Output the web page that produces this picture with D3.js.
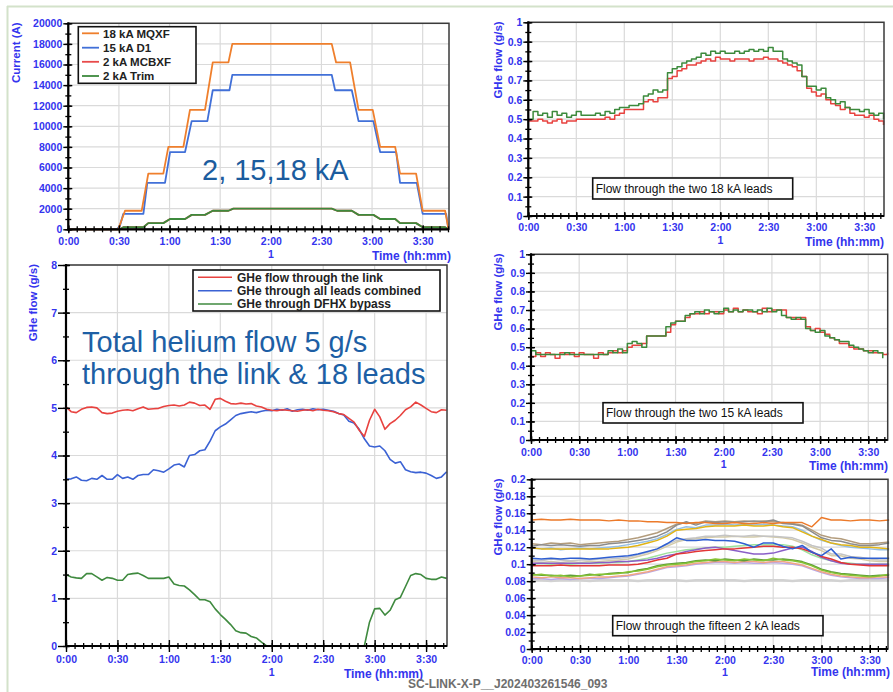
<!DOCTYPE html>
<html><head><meta charset="utf-8">
<script src="https://cdn.jsdelivr.net/npm/d3@7"></script>
<style>
body{margin:0;background:#fff;}
svg{display:block;font-family:Arial,"Liberation Sans",sans-serif;}
</style></head><body>
<svg id="c" width="893" height="692"></svg>
<script>
// ---------- DATA ----------
const timeLabels = ["0:00","0:30","1:00","1:30","2:00","2:30","3:00","3:30"];

// Panel 1: magnet currents (A), [minutes, value]
const p1Mqxf = [[0,0],[29.6,0],[33.6,1800],[43.5,1800],[47.4,5400],[56.3,5400],[59.3,8000],[68.2,8000],[72.1,11600],[81,11600],[85.6,16200],[94.9,16200],[97.2,18000],[156.1,18000],[158.7,16200],[167,16200],[172,11600],[180.4,11600],[184.8,8000],[193.7,8000],[196.6,5400],[206.1,5400],[210,1800],[223.3,1800],[225.3,0]];
const p1D1 = [[0,0],[28.7,0],[30.5,300],[32.6,1500],[44.5,1500],[46.8,4500],[57.3,4500],[60.3,7500],[69.2,7500],[73.1,10500],[82.4,10500],[85.6,13500],[95.5,13500],[97.2,15000],[156.1,15000],[158.1,13500],[168,13500],[172,10500],[180.8,10500],[184.8,7500],[194.3,7500],[196.6,4500],[206.5,4500],[210,1500],[223.9,1500],[225.3,0]];
const p1Mcbxf = [[0,0],[30.5,0],[32.6,200],[44.5,200],[47.4,600],[56.3,600],[60.3,1000],[69.2,1000],[73.1,1400],[81,1400],[85.6,1800],[94.9,1800],[97.8,2000],[156.1,2000],[159.3,1800],[168,1800],[172,1400],[180.8,1400],[184.8,1000],[193.7,1000],[196.6,600],[206.1,600],[210,200],[223.3,200],[225.3,0]];
const p1Trim = [[0,0],[30.5,0],[32.6,200],[44.5,200],[47.4,600],[56.3,600],[60.3,1000],[69.2,1000],[73.1,1400],[81,1400],[85.6,1800],[94.9,1800],[97.8,2000],[156.1,2000],[159.3,1800],[168,1800],[172,1400],[180.8,1400],[184.8,1000],[193.7,1000],[196.6,600],[206.1,600],[210,200],[223.3,200],[225.3,0]];
const p1Names = ["18 kA MQXF","15 kA D1","2 kA MCBXF","2 kA Trim"];

// 3-minute time base (minutes)
const T3 = [0,3,6,9,12,15,18,21,24,27,30,33,36,39,42,45,48,51,54,57,60,63,66,69,72,75,78,81,84,87,90,93,96,99,102,105,108,111,114,117,120,123,126,129,132,135,138,141,144,147,150,153,156,159,162,165,168,171,174,177,180,183,186,189,192,195,198,201,204,207,210,213,216,219,222];

// Panel 2: two 18 kA leads (g/s)
const p2Red = [0.49,0.49,0.50,0.49,0.48,0.49,0.50,0.48,0.49,0.49,
 0.50,0.50,0.50,0.50,0.50,0.50,0.51,0.50,0.52,0.53,
 0.55,0.55,0.55,0.55,0.59,0.60,0.59,0.61,0.61,0.71,
 0.72,0.75,0.76,0.78,0.78,0.79,0.80,0.81,0.80,0.82,
 0.81,0.81,0.80,0.81,0.81,0.81,0.80,0.81,0.81,0.82,
 0.81,0.81,0.80,0.79,0.78,0.77,0.75,0.72,0.66,0.64,
 0.62,0.63,0.60,0.58,0.57,0.55,0.56,0.53,0.52,0.52,
 0.51,0.52,0.50,0.49,0.47];
const p2Green = [0.50,0.54,0.52,0.53,0.51,0.54,0.52,0.53,0.51,0.52,
 0.54,0.52,0.52,0.52,0.53,0.52,0.54,0.53,0.55,0.56,
 0.56,0.57,0.57,0.58,0.62,0.63,0.65,0.64,0.65,0.74,
 0.76,0.77,0.79,0.80,0.81,0.82,0.84,0.83,0.85,0.84,
 0.85,0.84,0.84,0.85,0.84,0.85,0.86,0.85,0.86,0.85,
 0.87,0.85,0.85,0.81,0.80,0.79,0.78,0.72,0.67,0.67,
 0.65,0.66,0.61,0.60,0.58,0.59,0.56,0.55,0.55,0.54,
 0.55,0.53,0.52,0.53,0.50];

// Panel 3: total flows (g/s)
const p3Link = [5.02,4.92,4.90,4.97,5.01,5.02,5.00,4.90,4.88,4.89,
 4.93,4.95,4.96,4.94,4.98,5.02,4.97,4.98,4.99,5.03,
 5.05,5.06,5.04,5.06,5.12,5.10,5.05,5.06,4.97,5.18,
 5.20,5.14,5.09,5.08,5.10,5.08,5.09,5.04,5.02,4.97,
 4.95,4.94,4.96,4.95,4.94,4.93,4.95,4.96,4.94,4.97,
 4.95,4.94,4.92,4.88,4.86,4.78,4.70,4.53,4.40,4.74,
 4.97,4.81,4.55,4.67,4.74,4.84,4.96,5.02,5.12,5.06,
 4.99,4.92,4.90,4.96,4.95];
const p3Leads = [3.50,3.51,3.55,3.48,3.47,3.52,3.50,3.58,3.50,3.50,
 3.60,3.52,3.55,3.50,3.58,3.60,3.60,3.70,3.68,3.65,
 3.72,3.80,3.82,3.76,4.00,4.02,4.10,4.12,4.30,4.52,
 4.60,4.66,4.75,4.84,4.88,4.90,4.92,4.90,4.93,4.95,
 4.94,4.97,4.95,4.98,4.93,4.96,4.97,4.95,4.98,4.96,
 4.97,4.95,4.93,4.88,4.85,4.72,4.68,4.55,4.35,4.20,
 4.18,4.20,4.10,3.92,3.84,3.87,3.70,3.66,3.64,3.65,
 3.63,3.58,3.52,3.55,3.66];
const p3Bypass = [1.50,1.45,1.43,1.42,1.52,1.52,1.45,1.38,1.44,1.42,
 1.38,1.38,1.50,1.52,1.53,1.48,1.42,1.42,1.42,1.42,
 1.45,1.30,1.27,1.26,1.18,1.08,0.97,0.97,0.93,0.78,
 0.66,0.56,0.45,0.32,0.28,0.27,0.20,0.17,0.08,0.00,
 0,0,0,0,0,0,0,0,0,0,
 0,0,0,0,0,0,0,0,0,0.50,
 0.78,0.79,0.65,0.75,0.97,1.02,1.25,1.48,1.52,1.50,
 1.42,1.40,1.40,1.45,1.42];
const p3Names = ["GHe flow through the link","GHe through all leads combined","GHe through DFHX bypass"];

// Panel 4: two 15 kA leads (g/s)
const p4Red = [0.45,0.47,0.45,0.47,0.46,0.44,0.47,0.46,0.47,0.45,
 0.47,0.46,0.46,0.44,0.47,0.46,0.47,0.48,0.47,0.48,
 0.50,0.51,0.51,0.52,0.56,0.56,0.56,0.56,0.58,0.62,
 0.64,0.64,0.66,0.68,0.68,0.69,0.68,0.69,0.69,0.68,
 0.70,0.69,0.71,0.69,0.70,0.69,0.69,0.68,0.71,0.69,
 0.70,0.70,0.70,0.66,0.66,0.65,0.66,0.61,0.59,0.60,
 0.58,0.57,0.55,0.54,0.52,0.52,0.50,0.49,0.49,0.48,
 0.48,0.47,0.47,0.46,0.47];
const p4Green = [0.48,0.46,0.46,0.46,0.46,0.46,0.46,0.47,0.46,0.46,
 0.46,0.46,0.46,0.46,0.46,0.46,0.48,0.47,0.49,0.47,
 0.52,0.53,0.52,0.50,0.56,0.56,0.56,0.56,0.61,0.63,
 0.64,0.64,0.67,0.68,0.69,0.68,0.70,0.69,0.68,0.69,
 0.71,0.69,0.70,0.69,0.70,0.70,0.69,0.70,0.69,0.71,
 0.69,0.70,0.67,0.66,0.65,0.66,0.65,0.60,0.59,0.58,
 0.59,0.56,0.55,0.54,0.53,0.53,0.51,0.50,0.49,0.48,
 0.47,0.48,0.47,0.44,null];

// Panel 5: fifteen 2 kA leads (g/s), 6-minute time base
const T6 = [0,6,12,18,24,30,36,42,48,54,60,66,72,78,84,90,96,102,108,114,120,126,132,138,144,150,156,162,168,174,180,186,192,198,204,210,216,222];
const p5Orange = [.152,.153,.152,.152,.153,.152,.152,.152,.151,.152,.151,.151,.150,.150,.149,.149,.148,.149,.149,.148,.148,.149,.148,.148,.149,.148,.149,.149,.149,.144,.155,.152,.152,.151,.152,.152,.151,.152];
const p5Gray = [.121,.123,.122,.123,.122,.121,.122,.122,.124,.125,.126,.128,.130,.133,.138,.146,.150,.146,.150,.149,.150,.149,.150,.151,.150,.152,.148,.147,.145,.138,.131,.128,.127,.124,.122,.122,.123,.125];
const p5Tan = [.124,.123,.125,.124,.125,.123,.124,.125,.126,.127,.129,.131,.134,.137,.142,.147,.149,.148,.151,.150,.151,.150,.151,.150,.151,.150,.149,.148,.146,.140,.134,.131,.130,.127,.124,.124,.125,.126];
const p5LightBlue = [.119,.118,.119,.117,.118,.119,.118,.119,.120,.121,.123,.125,.127,.130,.135,.141,.144,.143,.146,.146,.147,.146,.147,.146,.147,.146,.145,.144,.140,.133,.128,.125,.122,.120,.119,.118,.117,.117];
const p5Gold = [.119,.118,.118,.118,.118,.118,.118,.118,.118,.119,.120,.122,.125,.128,.133,.140,.141,.142,.144,.145,.145,.145,.146,.145,.145,.146,.144,.143,.138,.133,.129,.125,.123,.122,.120,.120,.119,.118];
const p5Silver = [.105,.104,.106,.105,.104,.105,.105,.106,.106,.107,.108,.111,.114,.118,.123,.128,.130,.131,.133,.133,.134,.133,.133,.134,.133,.133,.132,.131,.127,.122,.119,.112,.112,.109,.108,.106,.105,.105];
const p5Khaki = [.103,.102,.103,.102,.103,.102,.103,.103,.104,.105,.106,.109,.112,.116,.121,.126,.129,.130,.131,.132,.132,.133,.132,.132,.133,.132,.131,.129,.125,.120,.116,.110,.110,.107,.106,.104,.103,.103];
const p5Blue = [.107,.106,.107,.106,.107,.107,.106,.107,.108,.109,.110,.112,.115,.118,.124,.131,.128,.128,.129,.128,.128,.127,.124,.120,.125,.125,.121,.118,.122,.114,.110,.118,.106,.108,.107,.107,.107,.107];
const p5Mint = [.100,.101,.100,.101,.100,.101,.101,.101,.102,.102,.103,.105,.107,.110,.113,.115,.117,.118,.119,.120,.120,.121,.122,.123,.123,.123,.123,.121,.117,.111,.107,.104,.102,.101,.100,.100,.100,.100];
const p5Purple = [.101,.101,.101,.101,.101,.101,.101,.102,.102,.103,.103,.104,.105,.107,.110,.112,.115,.117,.119,.120,.118,.116,.114,.112,.112,.113,.116,.119,.120,.115,.108,.104,.101,.100,.100,.100,.100,.100];
const p5Red = [.098,.098,.098,.099,.098,.098,.098,.098,.099,.099,.099,.100,.102,.105,.107,.112,.113,.115,.116,.117,.118,.118,.119,.120,.121,.121,.120,.120,.118,.114,.109,.106,.102,.100,.099,.098,.098,.098];
const p5YellowGreen = [.087,.088,.086,.087,.085,.086,.087,.088,.088,.089,.091,.092,.094,.097,.099,.100,.101,.103,.104,.106,.105,.104,.106,.105,.104,.107,.105,.104,.102,.098,.093,.090,.088,.087,.086,.085,.086,.088];
const p5Olive = [.088,.087,.087,.086,.087,.086,.088,.087,.089,.090,.090,.093,.095,.098,.100,.101,.102,.104,.105,.104,.106,.105,.104,.106,.105,.105,.106,.105,.103,.099,.094,.091,.089,.088,.087,.086,.087,.087];
const p5Salmon = [.085,.084,.085,.084,.084,.083,.084,.085,.085,.086,.087,.089,.091,.094,.097,.098,.099,.101,.102,.103,.103,.102,.103,.103,.102,.103,.103,.101,.099,.095,.091,.088,.086,.085,.084,.084,.085,.085];
const p5Lavender = [.083,.083,.082,.083,.082,.083,.083,.083,.084,.085,.086,.088,.090,.093,.096,.097,.098,.100,.101,.102,.102,.101,.102,.101,.101,.102,.101,.100,.098,.094,.090,.087,.085,.084,.083,.083,.083,.084];
const p5LightGray = [.081,.081,.080,.081,.081,.081,.080,.081,.081,.081,.081,.080,.081,.081,.081,.081,.080,.081,.081,.081,.081,.081,.080,.081,.081,.081,.081,.080,.081,.081,.081,.081,.080,.081,.081,.081,.081,.081];

// ---------- DRAWING ----------
const BLUE = "#3434ee";
const FONT = "Arial, 'Liberation Sans', sans-serif";
const svg = d3.select("#c");

// slide frame
svg.append("line").attr("x1",7).attr("x2",893).attr("y1",6.5).attr("y2",6.5).attr("stroke","#d3e2ca").attr("stroke-width",2);
svg.append("line").attr("x1",7.5).attr("x2",7.5).attr("y1",6).attr("y2",692).attr("stroke","#d3e2ca").attr("stroke-width",2);

function makePanel(c) {
  const x = d3.scaleLinear().domain([0, c.tmax]).range([c.x0, c.x1]);
  const y = d3.scaleLinear().domain([0, c.ymax]).range([c.y1, c.y0]);
  const xMaj = d3.range(0, 8).map(i => i * 30);
  const xMin = d3.range(0, Math.floor(c.tmax / 5) + 1).map(i => i * 5);
  const yMaj = d3.range(0, c.nMaj + 1).map(i => i * c.step);
  const yMin = d3.range(0, 2 * c.nMaj + 1).map(i => i * c.step / 2);
  const g = svg.append("g");
  // grid
  g.append("g").selectAll("line").data(xMaj.slice(1)).join("line")
    .attr("x1", d => x(d)).attr("x2", d => x(d)).attr("y1", c.y0).attr("y2", c.y1)
    .attr("stroke", "#dadada").attr("stroke-width", 1.2);
  g.append("g").selectAll("line").data(yMaj.slice(1)).join("line")
    .attr("x1", c.x0).attr("x2", c.x1).attr("y1", d => y(d)).attr("y2", d => y(d))
    .attr("stroke", "#dadada").attr("stroke-width", 1.2);
  const series = svg.append("g");
  const axes = () => {
    const ga = svg.append("g");
    ga.append("rect").attr("x", c.x0).attr("y", c.y0).attr("width", c.x1 - c.x0).attr("height", c.y1 - c.y0)
      .attr("fill", "none").attr("stroke", "#3a3a3a").attr("stroke-width", 1.5);
    // y minor
    ga.append("g").attr("transform", `translate(${c.x0},0)`)
      .call(d3.axisLeft(y).tickValues(yMin).tickSize(3).tickFormat(""))
      .call(s => s.select(".domain").remove())
      .call(s => s.selectAll(".tick line").attr("x1", 3).attr("stroke", "#000").attr("stroke-width", 1.3));
    // y major
    ga.append("g").attr("transform", `translate(${c.x0},0)`)
      .call(d3.axisLeft(y).tickValues(yMaj).tickSize(c.majL).tickPadding(c.labOff - c.majL).tickFormat(c.fmt))
      .attr("font-family", FONT).attr("font-size", 10.5).attr("font-weight", "bold")
      .call(s => s.select(".domain").remove())
      .call(s => s.selectAll(".tick line").attr("x1", 4).attr("stroke", "#000").attr("stroke-width", 1.4))
      .call(s => s.selectAll(".tick text").attr("fill", BLUE));
    // x minor
    ga.append("g").attr("transform", `translate(0,${c.y1})`)
      .call(d3.axisBottom(x).tickValues(xMin).tickSize(3).tickFormat(""))
      .call(s => s.select(".domain").remove())
      .call(s => s.selectAll(".tick line").attr("y1", -3).attr("stroke", "#000").attr("stroke-width", 1.3));
    // x major
    ga.append("g").attr("transform", `translate(0,${c.y1})`)
      .call(d3.axisBottom(x).tickValues(xMaj).tickSize(c.xMajL).tickFormat((d, i) => timeLabels[i]))
      .attr("font-family", FONT).attr("font-size", 10.5).attr("font-weight", "bold")
      .call(s => s.select(".domain").remove())
      .call(s => s.selectAll(".tick line").attr("y1", -c.xMajL).attr("stroke", "#000").attr("stroke-width", 1.4))
      .call(s => s.selectAll(".tick text").attr("fill", BLUE).attr("y", c.xLab).attr("dy", 0));
    // axis lines
    ga.append("line").attr("x1", c.x0).attr("x2", c.x0).attr("y1", c.y0 - 1).attr("y2", c.y1 + 1).attr("stroke", "#000").attr("stroke-width", 2.2);
    ga.append("line").attr("x1", c.x0 - 1).attr("x2", c.x1).attr("y1", c.y1).attr("y2", c.y1).attr("stroke", "#000").attr("stroke-width", 2.2);
    // titles
    ga.append("text").attr("transform", `translate(${c.tx},${c.y0 - 1}) rotate(-90)`)
      .attr("text-anchor", "end").attr("font-family", FONT).attr("font-size", 11.5).attr("font-weight", "bold")
      .attr("fill", BLUE).text(c.title);
    ga.append("text").attr("x", x(120)).attr("y", c.oneY).attr("text-anchor", "middle")
      .attr("font-family", FONT).attr("font-size", 10.5).attr("font-weight", "bold").attr("fill", BLUE).text("1");
    ga.append("text").attr("x", c.timeX).attr("y", c.timeY).attr("text-anchor", "end")
      .attr("font-family", FONT).attr("font-size", 12).attr("font-weight", "bold").attr("fill", BLUE).text("Time (hh:mm)");
    return ga;
  };
  return { x, y, series, axes };
}

function drawLine(p, xs, ys, color, w, curve) {
  const pts = xs.map((t, i) => [t, ys[i]]);
  const line = d3.line().defined(d => d[1] !== null && d[1] !== undefined)
    .x(d => p.x(d[0])).y(d => p.y(d[1])).curve(curve || d3.curveLinear);
  p.series.append("path").datum(pts).attr("d", line).attr("fill", "none")
    .attr("stroke", color).attr("stroke-width", w).attr("stroke-linejoin", "round");
}
function drawPairs(p, pairs, color, w) {
  const line = d3.line().x(d => p.x(d[0])).y(d => p.y(d[1]));
  p.series.append("path").datum(pairs).attr("d", line).attr("fill", "none")
    .attr("stroke", color).attr("stroke-width", w).attr("stroke-linejoin", "round");
}
function noteBox(x, y, w, h, txt) {
  svg.append("rect").attr("x", x).attr("y", y).attr("width", w).attr("height", h)
    .attr("fill", "#fff").attr("stroke", "#111").attr("stroke-width", 1.6);
  svg.append("text").attr("x", x + 3).attr("y", y + 14.5).attr("font-family", FONT)
    .attr("font-size", 12).attr("fill", "#111").text(txt);
}

const fmt1 = d => String(+d.toFixed(1));
const fmt2 = d => String(+d.toFixed(2));

// ---- Panel 1 ----
const P1 = makePanel({x0:68.3, x1:449, y0:23.3, y1:229.3, tmax:225.6, ymax:20000, nMaj:10, step:2000,
  majL:5, labOff:6, xMajL:4, xLab:15.5, fmt:d => String(d), tx:19.5, title:"Current (A)",
  oneY:258, timeX:451, timeY:260});
const p1Colors = ["#ef7f2c", "#4170d8", "#e84a4a", "#3d8a3d"];
drawPairs(P1, p1Mcbxf, p1Colors[2], 1.8);
drawPairs(P1, p1Trim, p1Colors[3], 1.8);
drawPairs(P1, p1D1, p1Colors[1], 1.8);
drawPairs(P1, p1Mqxf, p1Colors[0], 1.8);
P1.axes();
svg.append("text").attr("x", 202).attr("y", 180).attr("font-family", FONT).attr("font-size", 29)
  .attr("fill", "#1b5c9e").text("2, 15,18 kA");
{
  const lg = svg.append("g");
  lg.append("rect").attr("x", 78.3).attr("y", 26.7).attr("width", 117.7).attr("height", 56.6)
    .attr("fill", "#fff").attr("stroke", "#111").attr("stroke-width", 1.6);
  const ly = [33.3, 47.7, 61.8, 76];
  p1Names.forEach((n, i) => {
    lg.append("line").attr("x1", 82).attr("x2", 99).attr("y1", ly[i]).attr("y2", ly[i]).attr("stroke", p1Colors[i]).attr("stroke-width", 1.8);
    lg.append("text").attr("x", 103).attr("y", ly[i] + 4.2).attr("font-family", FONT).attr("font-size", 11.5)
      .attr("font-weight", "bold").attr("fill", "#222").text(n);
  });
}

// ---- Panel 2 ----
const P2 = makePanel({x0:528.3, x1:884, y0:22.3, y1:216, tmax:222.3, ymax:1, nMaj:10, step:0.1,
  majL:5, labOff:6, xMajL:4, xLab:15.2, fmt:fmt1, tx:501.5, title:"GHe flow (g/s)",
  oneY:244, timeX:884, timeY:245.5});
drawLine(P2, T3, p2Red, "#e8423f", 1.5, d3.curveStepAfter);
drawLine(P2, T3, p2Green, "#3c8a3c", 1.5, d3.curveStepAfter);
P2.axes();
noteBox(592.7, 178, 200, 21, "Flow through the two 18 kA leads");

// ---- Panel 3 ----
const P3 = makePanel({x0:66, x1:447, y0:265, y1:646, tmax:222.2, ymax:8, nMaj:8, step:1,
  majL:8, labOff:9, xMajL:6, xLab:17.3, fmt:d => String(d), tx:36.5, title:"GHe flow (g/s)",
  oneY:676, timeX:423, timeY:678});
const p3Colors = ["#e8423f", "#3b62d4", "#3f8a3f"];
drawLine(P3, T3, p3Bypass, p3Colors[2], 1.6);
drawLine(P3, T3, p3Leads, p3Colors[1], 1.6);
drawLine(P3, T3, p3Link, p3Colors[0], 1.6);
P3.axes();
{
  const lg = svg.append("g");
  lg.append("rect").attr("x", 193).attr("y", 270).attr("width", 247).attr("height", 41)
    .attr("fill", "#fff").attr("stroke", "#111").attr("stroke-width", 1.6);
  const ly = [277.3, 290.7, 304];
  p3Names.forEach((n, i) => {
    lg.append("line").attr("x1", 198).attr("x2", 232).attr("y1", ly[i]).attr("y2", ly[i]).attr("stroke", p3Colors[i]).attr("stroke-width", 1.6);
    lg.append("text").attr("x", 237).attr("y", ly[i] + 4.2).attr("font-family", FONT).attr("font-size", 12)
      .attr("font-weight", "bold").attr("fill", "#222").text(n);
  });
}
svg.append("text").attr("x", 82).attr("y", 352).attr("font-family", FONT).attr("font-size", 29)
  .attr("fill", "#1d5fa5").text("Total helium flow 5 g/s");
svg.append("text").attr("x", 82).attr("y", 384).attr("font-family", FONT).attr("font-size", 29)
  .attr("fill", "#1d5fa5").text("through the link & 18 leads");

// ---- Panel 4 ----
const P4 = makePanel({x0:531, x1:887.7, y0:254.3, y1:440, tmax:222.1, ymax:1, nMaj:10, step:0.1,
  majL:5, labOff:6, xMajL:4, xLab:15.8, fmt:fmt1, tx:501.5, title:"GHe flow (g/s)",
  oneY:468, timeX:888, timeY:470});
drawLine(P4, T3, p4Red, "#e8423f", 1.5, d3.curveStepAfter);
drawLine(P4, T3, p4Green, "#3c8a3c", 1.5, d3.curveStepAfter);
P4.axes();
noteBox(603, 402.7, 200, 20.3, "Flow through the two 15 kA leads");

// ---- Panel 5 ----
const P5 = makePanel({x0:531.7, x1:888, y0:479.3, y1:649, tmax:221.3, ymax:0.2, nMaj:10, step:0.02,
  majL:5, labOff:6, xMajL:4, xLab:15.2, fmt:fmt2, tx:501.5, title:"GHe flow (g/s)",
  oneY:676, timeX:890, timeY:676});
const p5Series = [p5LightGray, p5Lavender, p5Salmon, p5Khaki, p5Silver, p5LightBlue, p5Tan, p5Mint,
  p5Purple, p5Red, p5Olive, p5YellowGreen, p5Blue, p5Gold, p5Gray, p5Orange];
const p5Colors = ["#d2d2d2", "#b7a8e8", "#f2a585", "#d4cba8", "#c4c4c4", "#95bfe4", "#b39c7c", "#9de29d",
  "#8a5fc8", "#e23636", "#5f9e3a", "#86c234", "#2f5fd2", "#e2b415", "#8c8c8c", "#ec7a2a"];
p5Series.forEach((s, i) => drawLine(P5, T6, s, p5Colors[i], i === 0 ? 2.5 : 1.5));
P5.axes();
noteBox(612.7, 615.7, 210.3, 20, "Flow through the fifteen 2 kA leads");

// footer
svg.append("text").attr("x", 408).attr("y", 687.5).attr("font-family", FONT).attr("font-size", 12)
  .attr("font-weight", "bold").attr("fill", "#6e6e6e").text("SC-LINK-X-P__J202403261546_093");
</script>
</body></html>
